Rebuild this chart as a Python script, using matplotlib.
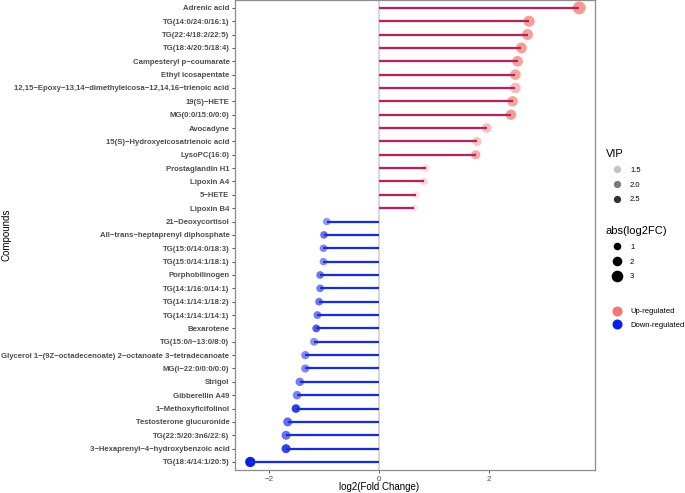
import matplotlib
matplotlib.use('Agg')
import matplotlib.pyplot as plt
import numpy as np
from matplotlib.lines import Line2D

# ---------------- data (top to bottom) ----------------
compounds = [
    "Adrenic acid", "TG(14:0/24:0/16:1)", "TG(22:4/18:2/22:5)", "TG(18:4/20:5/18:4)",
    "Campesteryl p\u2212coumarate", "Ethyl icosapentate",
    "12,15\u2212Epoxy\u221213,14\u2212dimethyleicosa\u221212,14,16\u2212trienoic acid",
    "19(S)\u2212HETE", "MG(0:0/15:0/0:0)", "Avocadyne",
    "15(S)\u2212Hydroxyeicosatrienoic acid", "LysoPC(16:0)", "Prostaglandin H1",
    "Lipoxin A4", "5\u2212HETE", "Lipoxin B4",
    "21\u2212Deoxycortisol", "All\u2212trans\u2212heptaprenyl diphosphate",
    "TG(15:0/14:0/18:3)", "TG(15:0/14:1/18:1)", "Porphobilinogen",
    "TG(14:1/16:0/14:1)", "TG(14:1/14:1/18:2)", "TG(14:1/14:1/14:1)", "Bexarotene",
    "TG(15:0/i\u221213:0/8:0)",
    "Glycerol 1\u2212(9Z\u2212octadecenoate) 2\u2212octanoate 3\u2212tetradecanoate",
    "MG(i\u221222:0/0:0/0:0)", "Strigol", "Gibberellin A49", "1\u2212Methoxyficifolinol",
    "Testosterone glucuronide", "TG(22:5/20:3n6/22:6)",
    "3\u2212Hexaprenyl\u22124\u2212hydroxybenzoic acid", "TG(18:4/14:1/20:5)",
]
log2fc = [
    3.64, 2.73, 2.70, 2.59, 2.52, 2.48, 2.48, 2.43, 2.40, 1.96, 1.78, 1.76,
    0.85, 0.82, 0.67, 0.64,
    -0.95, -1.00, -1.01, -1.01, -1.07, -1.07, -1.09, -1.12, -1.14, -1.18,
    -1.34, -1.34, -1.44, -1.49, -1.51, -1.66, -1.69, -1.69, -2.34,
]
vip = [
    2.40, 2.35, 2.30, 2.35, 2.30, 2.25, 1.95, 2.25, 2.35, 1.90, 1.85, 2.20,
    1.55, 1.65, 1.50, 1.45,
    1.90, 2.20, 2.00, 1.95, 2.15, 2.10, 2.15, 2.10, 2.35, 1.95,
    2.00, 2.00, 2.10, 2.05, 2.60, 2.25, 2.20, 2.55, 2.84,
]
x_ticks = [-2, 0, 2]
vip_breaks = [1.5, 2.0, 2.5]
fc_breaks = [1, 2, 3]
groups = ["Up-regulated", "Down-regulated"]

point_colors = {"Up-regulated": "#F8766D", "Down-regulated": "#0A1EF0"}
line_colors = {"Up-regulated": "#B3245E", "Down-regulated": "#1A2ED0"}

plt.rcParams['font.family'] = ['Liberation Sans', 'DejaVu Sans']

VMIN, VMAX = 1.27, 2.84


def alpha_of(v):
    return float(0.1 + 0.9 * np.clip((v - VMIN) / (VMAX - VMIN), 0, 1))


def diam_px(fc):
    return 5.6 + 2.0 * abs(fc)


def size_of(fc):
    return (diam_px(fc) * 0.72) ** 2


fig = plt.figure(figsize=(6.85, 4.93), dpi=100)
ax = fig.add_axes([235 / 685, 1 - 470 / 493, 360 / 685, 469.5 / 493])

n = len(compounds)
ypos = np.arange(n)[::-1]

ax.axvline(0, color='#D4D4D4', lw=1.3, zorder=1)
for name, fc, v, y in zip(compounds, log2fc, vip, ypos):
    g = "Up-regulated" if fc > 0 else "Down-regulated"
    ax.scatter([fc], [y], s=size_of(fc), color=point_colors[g], alpha=alpha_of(v),
               edgecolors='none', zorder=2)
    ax.hlines(y, 0, fc, color=line_colors[g], lw=1.65, zorder=3)

ax.set_xlim(-2.618, 3.927)
ax.set_ylim(-0.6, 34.55)
ax.set_yticks(ypos)
ax.set_yticklabels(compounds, fontsize=5.55, fontweight='bold', color='#4D4D4D')
ax.set_xticks(x_ticks)
ax.set_xticklabels([str(t).replace('-', '\u2212') for t in x_ticks], fontsize=5.8, color='#4D4D4D')
ax.tick_params(axis='both', length=2.5, width=0.6, color='#333333', pad=1.5)
for s in ax.spines.values():
    s.set_color('#8C8C8C')
    s.set_linewidth(0.9)

ax.set_xlabel('log2(Fold Change)', fontsize=7.0, color='black')
ax.xaxis.set_label_coords(0.4, -0.036)
ax.xaxis.label.set_va('center')
fig.text(7 / 685, 1 - 235 / 493, 'Compounds', rotation=90, fontsize=7.0,
         ha='center', va='center')

# ---------------- legends ----------------
fs = 5.5
leg_kw = dict(frameon=False, fontsize=fs, borderpad=0, borderaxespad=0,
              handlelength=3.0, handletextpad=0.15, loc='upper left',
              bbox_transform=fig.transFigure, alignment='left',
              title_fontsize=8.0)

h1 = [Line2D([], [], ls='none', marker='o', markersize=7.3 * 0.72, color='black',
             alpha=alpha_of(b), markeredgewidth=0) for b in vip_breaks]
l1 = fig.legend(h1, [f"{b:.1f}" for b in vip_breaks], title='VIP',
                bbox_to_anchor=(606 / 685, 1 - 149 / 493), labelspacing=0.97, **leg_kw)

h2 = [Line2D([], [], ls='none', marker='o', markersize=diam_px(b) * 0.72, color='black',
             markeredgewidth=0) for b in fc_breaks]
l2 = fig.legend(h2, [str(b) for b in fc_breaks], title='abs(log2FC)',
                bbox_to_anchor=(606 / 685, 1 - 226 / 493), labelspacing=0.97, **leg_kw)

h3 = [Line2D([], [], ls='none', marker='o', markersize=10 * 0.72, color=point_colors[g],
             markeredgewidth=0) for g in groups]
kw3 = dict(leg_kw)
kw3.pop('title_fontsize')
l3 = fig.legend(h3, groups, bbox_to_anchor=(606 / 685, 1 - 308 / 493), labelspacing=0.8, **kw3)

fig.savefig('out.png', dpi=100)
